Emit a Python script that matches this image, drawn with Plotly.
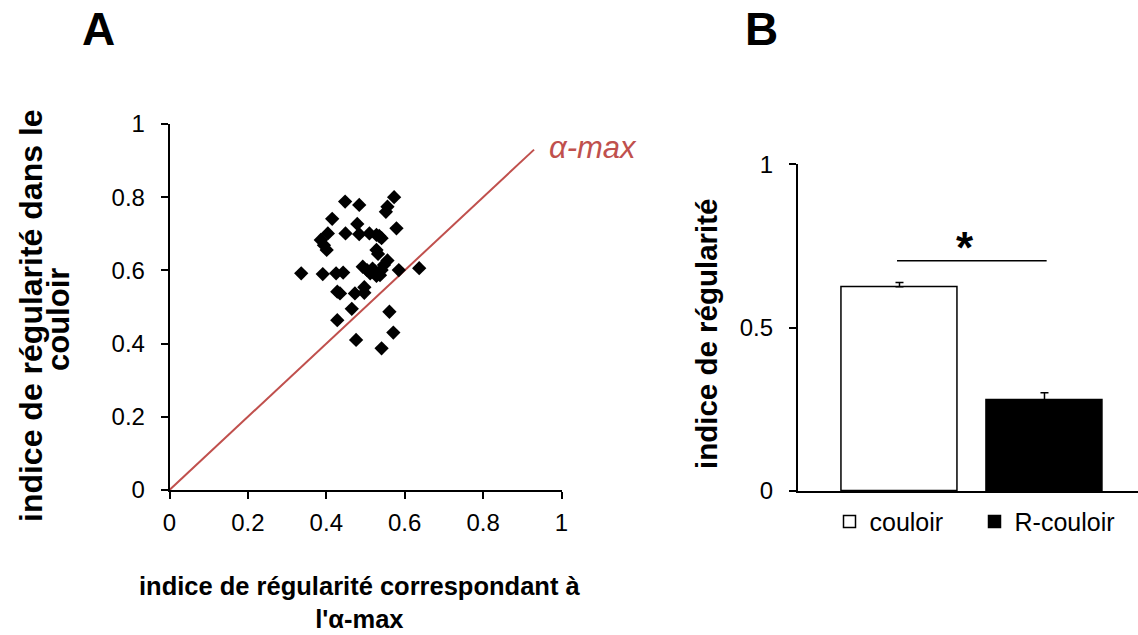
import plotly.graph_objects as go

# ---- Panel A data ----
alpha_x = [0.336, 0.391, 0.425, 0.443, 0.428, 0.435, 0.428, 0.448, 0.484, 0.415,
           0.404, 0.449, 0.479, 0.484, 0.386, 0.394, 0.401, 0.510, 0.528, 0.541,
           0.535, 0.528, 0.532, 0.573, 0.556, 0.552, 0.579, 0.556, 0.547, 0.585,
           0.637, 0.493, 0.512, 0.524, 0.537, 0.528, 0.541, 0.497, 0.497, 0.473,
           0.465, 0.561, 0.571, 0.476, 0.541, 0.504, 0.518]
couloir_y = [0.592, 0.590, 0.592, 0.594, 0.542, 0.537, 0.464, 0.788, 0.779, 0.741,
             0.701, 0.701, 0.727, 0.699, 0.683, 0.669, 0.656, 0.701, 0.697, 0.688,
             0.694, 0.656, 0.645, 0.800, 0.774, 0.760, 0.715, 0.627, 0.615, 0.601,
             0.606, 0.610, 0.592, 0.597, 0.587, 0.585, 0.601, 0.554, 0.539, 0.537,
             0.495, 0.487, 0.430, 0.410, 0.387, 0.601, 0.605]
line_x = [0.0, 0.93]
line_y = [0.0, 0.93]
a_ticks = [0, 0.2, 0.4, 0.6, 0.8, 1]
a_ticklabels = ["0", "0.2", "0.4", "0.6", "0.8", "1"]

# ---- Panel B data ----
bar_names = ["couloir", "R-couloir"]
bar_pos = [0, 1]
bar_vals = [0.625, 0.278]
bar_err = [0.013, 0.023]
sig_x = [-0.017, 1.015]
sig_y = [0.705, 0.705]
b_ticks = [0, 0.5, 1]
b_ticklabels = ["0", "0.5", "1"]

FONT = "Liberation Sans, Arial, sans-serif"
RED = "#C0504D"
W, H = 1138, 635

fig = go.Figure()

fig.add_trace(go.Scatter(x=line_x, y=line_y, mode="lines",
                         line=dict(color=RED, width=2),
                         xaxis="x", yaxis="y", showlegend=False, hoverinfo="skip"))
fig.add_trace(go.Scatter(x=alpha_x, y=couloir_y, mode="markers",
                         marker=dict(symbol="diamond", size=11, color="black",
                                     line=dict(width=0)),
                         xaxis="x", yaxis="y", showlegend=False))

bar_fills = ["white", "black"]
for i in range(2):
    fig.add_trace(go.Bar(x=[bar_pos[i]], y=[bar_vals[i]], name=bar_names[i],
                         width=0.8,
                         marker=dict(color=bar_fills[i], line=dict(color="black", width=1.5)),
                         error_y=dict(type="data", array=[bar_err[i]], arrayminus=[0],
                                      color="black", thickness=1.5, width=4),
                         xaxis="x2", yaxis="y2", showlegend=True))

fig.add_trace(go.Scatter(x=sig_x, y=sig_y, mode="lines",
                         line=dict(color="black", width=1.5),
                         xaxis="x2", yaxis="y2", showlegend=False, hoverinfo="skip"))

axis_common = dict(showline=True, linecolor="black", linewidth=1.5, showgrid=False,
                   zeroline=False, ticks="outside", ticklen=7, tickwidth=1.5,
                   tickcolor="black", tickfont=dict(family=FONT, size=24, color="black"))

fig.update_layout(
    width=W, height=H,
    margin=dict(l=0, r=0, t=0, b=0, autoexpand=False),
    paper_bgcolor="white", plot_bgcolor="white",
    font=dict(family=FONT, color="black"),
    bargap=0,
    xaxis=dict(domain=[169.5 / W, 561.5 / W], range=[0, 1], anchor="y",
               tickvals=a_ticks, ticktext=a_ticklabels, ticklabelstandoff=3,
               **axis_common),
    yaxis=dict(domain=[1 - 490 / H, 1 - 124 / H], range=[0, 1], anchor="x",
               tickvals=a_ticks, ticktext=a_ticklabels, ticklabelstandoff=11,
               **axis_common),
    xaxis2=dict(domain=[797.7 / W, 1.0], range=[-0.702, 1.645], anchor="y2",
                showline=True, linecolor="black", linewidth=1.5, showgrid=False,
                zeroline=False, ticks="", showticklabels=False),
    yaxis2=dict(domain=[1 - 491 / H, 1 - 164.3 / H], range=[0, 1], anchor="x2",
                tickvals=b_ticks, ticktext=b_ticklabels, ticklabelstandoff=11,
                **axis_common),
    legend=dict(orientation="h", x=829.5 / W, xanchor="left", y=1 - 521.7 / H,
                yanchor="middle", font=dict(family=FONT, size=25, color="black"),
                entrywidth=100, entrywidthmode="pixels", itemwidth=30,
                bgcolor="rgba(0,0,0,0)", borderwidth=0),
    annotations=[
        dict(text="<b>A</b>", x=98 / W, y=1 - 29 / H, xref="paper", yref="paper",
             showarrow=False, font=dict(family=FONT, size=46, color="black"),
             xanchor="center", yanchor="middle"),
        dict(text="<b>B</b>", x=761 / W, y=1 - 29 / H, xref="paper", yref="paper",
             showarrow=False, font=dict(family=FONT, size=46, color="black"),
             xanchor="center", yanchor="middle"),
        dict(text="<i>α-max</i>", x=0.963, y=0.937, xref="x", yref="y",
             showarrow=False, font=dict(family=FONT, size=31, color=RED),
             xanchor="left", yanchor="middle"),
        dict(text="<b>indice de régularité dans le</b>", textangle=-90,
             x=31 / W, y=1 - 316 / H, xref="paper", yref="paper", showarrow=False,
             font=dict(family=FONT, size=32, color="black"),
             xanchor="center", yanchor="middle"),
        dict(text="<b>couloir</b>", textangle=-90,
             x=58 / W, y=1 - 320 / H, xref="paper", yref="paper", showarrow=False,
             font=dict(family=FONT, size=31, color="black"),
             xanchor="center", yanchor="middle"),
        dict(text="<b>indice de régularité correspondant à<br>l'α-max</b>",
             x=360 / W, y=1 - 602 / H, xref="paper", yref="paper", showarrow=False,
             font=dict(family=FONT, size=25.5, color="black"),
             xanchor="center", yanchor="middle"),
        dict(text="<b>indice de régularité</b>", textangle=-90,
             x=706 / W, y=1 - 334 / H, xref="paper", yref="paper", showarrow=False,
             font=dict(family=FONT, size=29.5, color="black"),
             xanchor="center", yanchor="middle"),
        dict(text="<b>*</b>", x=0.452, y=0.765, xref="x2", yref="y2",
             showarrow=False, font=dict(family=FONT, size=44, color="black"),
             xanchor="center", yanchor="top", yshift=20),
    ],
)

fig.write_html("out.html", config={"displayModeBar": False},
               post_script="document.body.style.margin='0px';")
